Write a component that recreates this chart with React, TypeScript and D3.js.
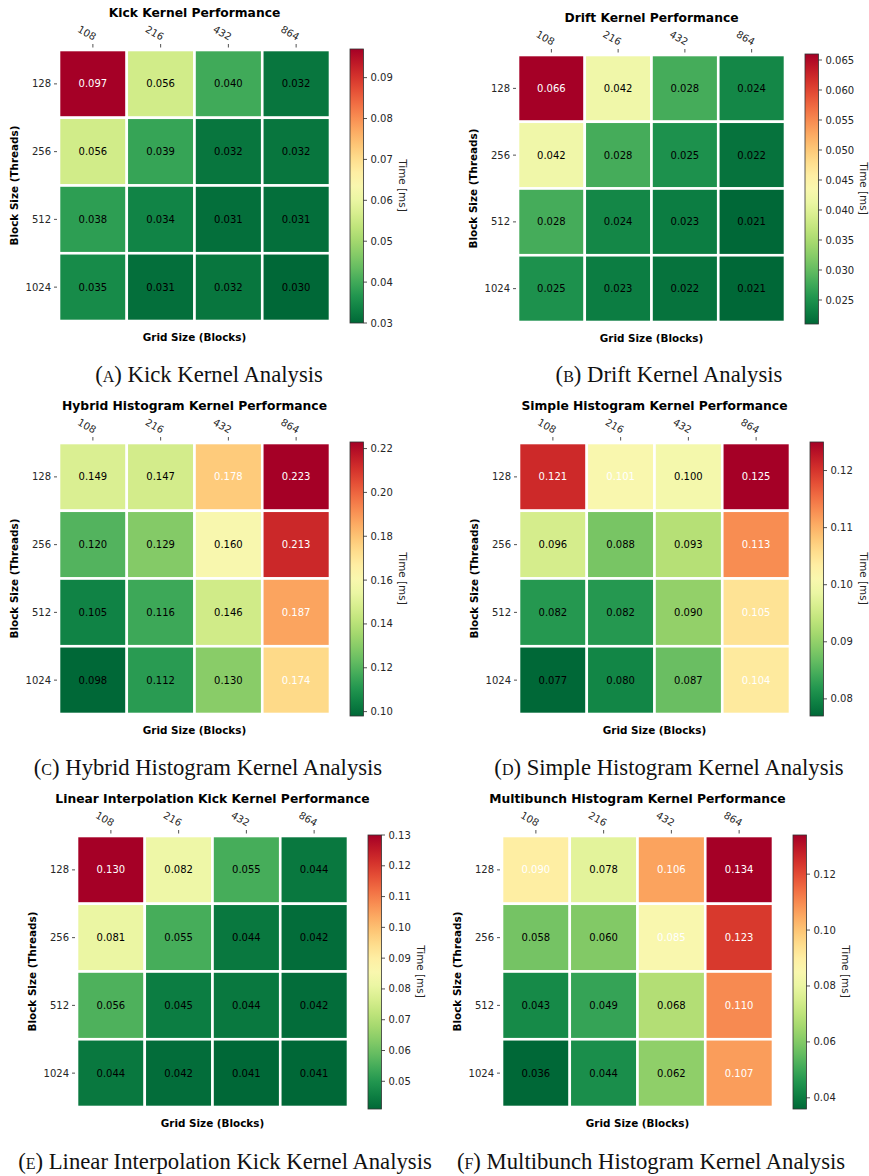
import * as d3 from "d3";

// axis categories
const gridSizes = ["108", "216", "432", "864"];
const blockSizes = ["128", "256", "512", "1024"];

// timings [ms], rows = block size, cols = grid size
const kickValues = [
    [0.097, 0.056, 0.040, 0.032],
    [0.056, 0.039, 0.032, 0.032],
    [0.038, 0.034, 0.031, 0.031],
    [0.035, 0.031, 0.032, 0.030],
];
const driftValues = [
    [0.066, 0.042, 0.028, 0.024],
    [0.042, 0.028, 0.025, 0.022],
    [0.028, 0.024, 0.023, 0.021],
    [0.025, 0.023, 0.022, 0.021],
];
const hybridValues = [
    [0.149, 0.147, 0.178, 0.223],
    [0.120, 0.129, 0.160, 0.213],
    [0.105, 0.116, 0.146, 0.187],
    [0.098, 0.112, 0.130, 0.174],
];
const simpleValues = [
    [0.121, 0.101, 0.100, 0.125],
    [0.096, 0.088, 0.093, 0.113],
    [0.082, 0.082, 0.090, 0.105],
    [0.077, 0.080, 0.087, 0.104],
];
const linearValues = [
    [0.130, 0.082, 0.055, 0.044],
    [0.081, 0.055, 0.044, 0.042],
    [0.056, 0.045, 0.044, 0.042],
    [0.044, 0.042, 0.041, 0.041],
];
const multibunchValues = [
    [0.090, 0.078, 0.106, 0.134],
    [0.058, 0.060, 0.085, 0.123],
    [0.043, 0.049, 0.068, 0.110],
    [0.036, 0.044, 0.062, 0.107],
];

// colorbar tick labels
const kickTicks = [0.03, 0.04, 0.05, 0.06, 0.07, 0.08, 0.09];
const driftTicks = [0.025, 0.03, 0.035, 0.04, 0.045, 0.05, 0.055, 0.06, 0.065];
const hybridTicks = [0.10, 0.12, 0.14, 0.16, 0.18, 0.20, 0.22];
const simpleTicks = [0.08, 0.09, 0.10, 0.11, 0.12];
const linearTicks = [0.05, 0.06, 0.07, 0.08, 0.09, 0.10, 0.11, 0.12, 0.13];
const multibunchTicks = [0.04, 0.06, 0.08, 0.10, 0.12];

const panels = [
    { id: "a", title: "Kick Kernel Performance", caption: "Kick Kernel Analysis", values: kickValues, ticks: kickTicks, fmt: ".2f",
      x0: 59, y0: 50, size: 271, cbLabelX: 403, capX: 209, capY: 382 },
    { id: "b", title: "Drift Kernel Performance", caption: "Drift Kernel Analysis", values: driftValues, ticks: driftTicks, fmt: ".3f",
      x0: 518, y0: 55, size: 267, cbLabelX: 864, capX: 669, capY: 382 },
    { id: "c", title: "Hybrid Histogram Kernel Performance", caption: "Hybrid Histogram Kernel Analysis", values: hybridValues, ticks: hybridTicks, fmt: ".2f",
      x0: 59, y0: 443, size: 271, cbLabelX: 403, capX: 208, capY: 775 },
    { id: "d", title: "Simple Histogram Kernel Performance", caption: "Simple Histogram Kernel Analysis", values: simpleValues, ticks: simpleTicks, fmt: ".2f",
      x0: 519, y0: 443, size: 271, cbLabelX: 864, capX: 669, capY: 775 },
    { id: "e", title: "Linear Interpolation Kick Kernel Performance", caption: "Linear Interpolation Kick Kernel Analysis", values: linearValues, ticks: linearTicks, fmt: ".2f",
      x0: 77, y0: 836, size: 271, cbLabelX: 421, capX: 225, capY: 1169 },
    { id: "f", title: "Multibunch Histogram Kernel Performance", caption: "Multibunch Histogram Kernel Analysis", values: multibunchValues, ticks: multibunchTicks, fmt: ".2f",
      x0: 502, y0: 836, size: 271, cbLabelX: 846, capX: 651, capY: 1169 },
];

const sans = "'DejaVu Sans', sans-serif";
const serif = "'Liberation Serif', 'DejaVu Serif', serif";
const ink = "#262626";

function Heatmap({ p }) {
    const flat = p.values.flat();
    const vmin = d3.min(flat);
    const vmax = d3.max(flat);
    const mid = (vmin + vmax) / 2;
    const color = (v) => d3.interpolateRdYlGn(1 - (v - vmin) / (vmax - vmin));

    const x = d3.scaleBand().domain(gridSizes).range([p.x0, p.x0 + p.size]);
    const y = d3.scaleBand().domain(blockSizes).range([p.y0, p.y0 + p.size]);

    const cbX = p.x0 + p.size + 20;
    const cbW = 13.5;
    const cb = d3.scaleLinear().domain([vmin, vmax]).range([p.y0 + p.size + 2, p.y0 - 1]);
    const gradStops = d3.range(0, 1.0001, 0.05);
    const fmt = d3.format(p.fmt);
    const cx = (p.x0 + p.x0 + p.size) / 2;
    const cy = (p.y0 + p.y0 + p.size) / 2;

    return (
        <g>
            <defs>
                <linearGradient id={`grad-${p.id}`} x1="0" y1="1" x2="0" y2="0">
                    {gradStops.map((t) => (
                        <stop key={t} offset={t} stopColor={d3.interpolateRdYlGn(1 - t)} />
                    ))}
                </linearGradient>
            </defs>

            <text x={cx} y={p.y0 - 33} textAnchor="middle" fontFamily={sans} fontWeight="bold" fontSize={12.3} fill="#000">
                {p.title}
            </text>

            {/* cells */}
            {p.values.map((row, i) =>
                row.map((v, j) => (
                    <g key={`${i}-${j}`}>
                        <rect x={x(gridSizes[j])} y={y(blockSizes[i])} width={x.bandwidth()} height={y.bandwidth()}
                            fill={color(v)} stroke="#fff" strokeWidth={2.6} />
                        <text x={x(gridSizes[j]) + x.bandwidth() / 2} y={y(blockSizes[i]) + y.bandwidth() / 2}
                            dy="0.35em" textAnchor="middle" fontFamily={sans} fontSize={10}
                            fill={v >= mid - 1e-9 ? "#fff" : "#000"}>
                            {d3.format(".3f")(v)}
                        </text>
                    </g>
                ))
            )}

            {/* top axis */}
            {gridSizes.map((g) => {
                const tx = x(g) + x.bandwidth() / 2;
                return (
                    <g key={g}>
                        <line x1={tx} x2={tx} y1={p.y0 - 6} y2={p.y0 - 2.5} stroke={ink} strokeWidth={0.8} />
                        <text transform={`translate(${tx - 6},${p.y0 - 17}) rotate(30)`} textAnchor="middle" dy="0.35em"
                            fontFamily={sans} fontSize={10} fill={ink}>{g}</text>
                    </g>
                );
            })}

            {/* left axis */}
            {blockSizes.map((b) => {
                const ty = y(b) + y.bandwidth() / 2;
                return (
                    <g key={b}>
                        <line x1={p.x0 - 5} x2={p.x0 - 2} y1={ty} y2={ty} stroke={ink} strokeWidth={0.8} />
                        <text x={p.x0 - 8} y={ty} dy="0.35em" textAnchor="end" fontFamily={sans} fontSize={10} fill={ink}>{b}</text>
                    </g>
                );
            })}

            <text transform={`translate(${p.x0 - 45},${cy}) rotate(-90)`} textAnchor="middle" dy="0.35em"
                fontFamily={sans} fontWeight="bold" fontSize={10.4} fill="#000">Block Size (Threads)</text>
            <text x={cx} y={p.y0 + p.size + 20} textAnchor="middle"
                fontFamily={sans} fontWeight="bold" fontSize={10.4} fill="#000">Grid Size (Blocks)</text>

            {/* colorbar */}
            <rect x={cbX} y={cb.range()[1]} width={cbW} height={cb.range()[0] - cb.range()[1]}
                fill={`url(#grad-${p.id})`} stroke="#333" strokeWidth={0.8} />
            {p.ticks.map((t) => (
                <g key={t}>
                    <line x1={cbX + cbW} x2={cbX + cbW + 3.5} y1={cb(t)} y2={cb(t)} stroke={ink} strokeWidth={0.8} />
                    <text x={cbX + cbW + 7} y={cb(t)} dy="0.35em" fontFamily={sans} fontSize={10} fill={ink}>{fmt(t)}</text>
                </g>
            ))}
            <text transform={`translate(${p.cbLabelX},${cy}) rotate(90)`} textAnchor="middle" dy="0.35em"
                fontFamily={sans} fontSize={10.4} fill={ink}>Time [ms]</text>

            <text x={p.capX} y={p.capY} textAnchor="middle" fontFamily={serif} fontSize={22.7} fill="#111">
                (<tspan style={{ fontVariant: "small-caps" }}>{p.id}</tspan>) {p.caption}
            </text>
        </g>
    );
}

export default function App() {
    return (
        <svg width={869} height={1176} viewBox="0 0 869 1176"
            style={{ position: "absolute", left: 0, top: 0, background: "#fff" }}>
            <rect width={869} height={1176} fill="#fff" />
            {panels.map((p) => <Heatmap key={p.id} p={p} />)}
        </svg>
    );
}
